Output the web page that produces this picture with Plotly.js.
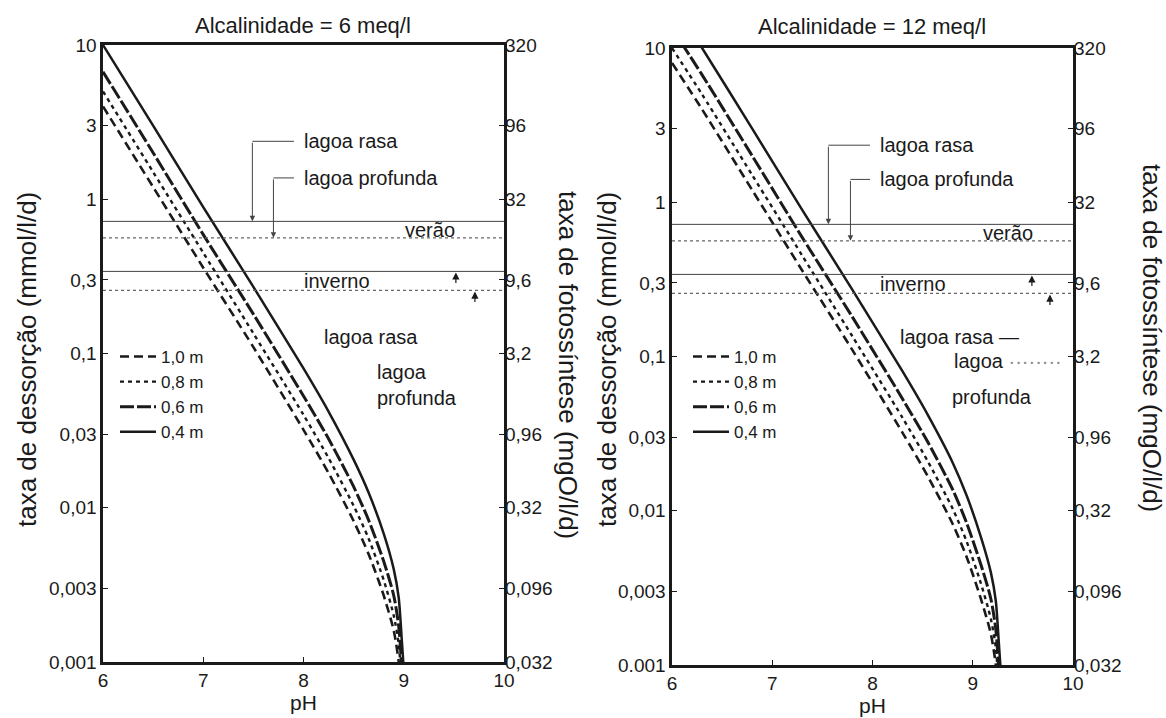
<!DOCTYPE html>
<html><head><meta charset="utf-8">
<script src="https://cdn.plot.ly/plotly-3.0.1.min.js"></script>
<style>html,body{margin:0;padding:0;background:#fff;}#chart{width:1166px;height:718px;}</style>
</head><body><div id="chart"></div>
<script>
// ---------------- data ----------------
const depthNames = ['1,0 m', '0,8 m', '0,6 m', '0,4 m'];

// Alcalinidade = 6 meq/l : pH vs taxa de dessorção (mmol/l/d)
const pH_alc6    = [6.0, 6.5, 7.0, 7.5, 8.0, 8.25, 8.5, 8.65, 8.8, 8.9, 8.95, 8.98, 9.0];
const alc6_d10   = [4.0, 1.2, 0.36, 0.11, 0.032, 0.0168, 0.0082, 0.005, 0.0027, 0.0016, 0.001, 0.00056, 0.00036];
const alc6_d08   = [5.0, 1.5, 0.45, 0.135, 0.04, 0.021, 0.0103, 0.0063, 0.0034, 0.002, 0.0013, 0.0007, 0.00045];
const alc6_d06   = [6.7, 2.0, 0.59, 0.18, 0.053, 0.028, 0.0137, 0.0083, 0.0045, 0.0027, 0.0017, 0.00093, 0.0006];
const alc6_d04   = [10, 3.0, 0.89, 0.27, 0.08, 0.042, 0.0205, 0.0125, 0.0068, 0.004, 0.0026, 0.0014, 0.0009];

// Alcalinidade = 12 meq/l
const pH_alc12   = [6.0, 6.3, 6.8, 7.3, 7.8, 8.3, 8.55, 8.8, 8.94, 9.08, 9.18, 9.23, 9.26, 9.28];
const alc12_d10  = [8.0, 4.0, 1.2, 0.36, 0.11, 0.032, 0.0168, 0.0082, 0.005, 0.0027, 0.0016, 0.001, 0.00056, 0.00036];
const alc12_d08  = [10, 5.0, 1.5, 0.45, 0.135, 0.04, 0.021, 0.0103, 0.0063, 0.0034, 0.002, 0.0013, 0.0007, 0.00045];
const alc12_d06  = [13.4, 6.7, 2.0, 0.59, 0.18, 0.053, 0.028, 0.0137, 0.0083, 0.0045, 0.0027, 0.0017, 0.00093, 0.0006];
const alc12_d04  = [20, 10, 3.0, 0.89, 0.27, 0.08, 0.042, 0.0205, 0.0125, 0.0068, 0.004, 0.0026, 0.0014, 0.0009];

// taxa de fotossíntese de referência (mgO/l/d)
const refNames  = ['verão – lagoa rasa', 'verão – lagoa profunda', 'inverno – lagoa rasa', 'inverno – lagoa profunda'];
const refLevels = [23, 18, 10.9, 8.2];

// ticks
const xRange      = [6, 10];
const xTickVals   = [6, 7, 8, 9, 10];
const yTickVals   = [0.001, 0.003, 0.01, 0.03, 0.1, 0.3, 1, 3, 10];
const yTickTextA  = ['0,001', '0,003', '0,01', '0,03', '0,1', '0,3', '1', '3', '10'];
const yTickTextB  = ['0.001', '0,003', '0,01', '0,03', '0,1', '0,3', '1', '3', '10'];
const y2TickVals  = [0.032, 0.096, 0.32, 0.96, 3.2, 9.6, 32, 96, 320];
const y2TickText  = ['0,032', '0,096', '0,32', '0,96', '3,2', '9,6', '32', '96', '320'];
const yRangeMmol  = [0.001, 10];
const yRangeMgO   = [0.032, 320];

// ---------------- styling ----------------
const W = 1166, H = 718;
const FONT = 'Liberation Sans, Arial, sans-serif';
const INK = '#1a1a1a';
const px = x => x / W, py = y => 1 - y / H;
const L = Math.log10;

const lineStyles = [
  {dash: '9px,5px', width: 2.6},
  {dash: '4px,4px', width: 2.4},
  {dash: '14px,3px', width: 3},
  {dash: 'solid', width: 2.5}
];
const refStyles = [
  {dash: 'solid', width: 1, color: '#444'},
  {dash: 'dot', width: 1.3, color: '#666'},
  {dash: 'solid', width: 1, color: '#444'},
  {dash: 'dot', width: 1.3, color: '#666'}
];

const traces = [];
function addPanel(pHs, series, xa, ya, ya2, legendId) {
  series.forEach((s, i) => {
    traces.push({
      x: pHs, y: s, xaxis: xa, yaxis: ya, type: 'scatter', mode: 'lines',
      name: depthNames[i], legend: legendId, hoverinfo: 'skip',
      line: {color: INK, dash: lineStyles[i].dash, width: lineStyles[i].width, shape: 'spline', smoothing: 0.7}
    });
  });
  refLevels.forEach((v, i) => {
    traces.push({
      x: [xRange[0], xRange[1]], y: [v, v], xaxis: xa, yaxis: ya2, type: 'scatter', mode: 'lines',
      name: refNames[i], showlegend: false, hoverinfo: 'skip',
      line: {color: refStyles[i].color, dash: refStyles[i].dash, width: refStyles[i].width}
    });
  });
}
addPanel(pH_alc6, [alc6_d10, alc6_d08, alc6_d06, alc6_d04], 'x', 'y', 'y2', 'legend');
addPanel(pH_alc12, [alc12_d10, alc12_d08, alc12_d06, alc12_d04], 'x2', 'y3', 'y4', 'legend2');

function xAxis(domain, anchor) {
  return {
    domain: domain, anchor: anchor, range: xRange, tickvals: xTickVals,
    ticks: 'inside', ticklen: 5, tickwidth: 1, tickcolor: INK,
    showline: true, mirror: true, linewidth: 2.6, linecolor: INK,
    showgrid: false, zeroline: false,
    tickfont: {family: FONT, size: 19, color: INK},
    title: {text: 'pH', font: {family: FONT, size: 21, color: INK}, standoff: 0}
  };
}
function yAxis(domain, anchor, ticktext) {
  return {
    domain: domain, anchor: anchor, type: 'log', range: [L(yRangeMmol[0]), L(yRangeMmol[1])],
    tickvals: yTickVals, ticktext: ticktext,
    ticks: 'inside', ticklen: 5, tickwidth: 1, tickcolor: INK,
    showline: true, mirror: true, linewidth: 2.6, linecolor: INK,
    showgrid: false, zeroline: false,
    tickfont: {family: FONT, size: 19, color: INK}
  };
}
function y2Axis(over, anchor) {
  return {
    overlaying: over, anchor: anchor, side: 'right', type: 'log',
    range: [L(yRangeMgO[0]), L(yRangeMgO[1])],
    tickvals: y2TickVals, ticktext: y2TickText,
    ticks: 'inside', ticklen: 5, tickwidth: 1, tickcolor: INK,
    showline: false, showgrid: false, zeroline: false,
    tickfont: {family: FONT, size: 19, color: INK}
  };
}

const annotations = [];
function txt(xref, yref, x, y, text, opts) {
  annotations.push(Object.assign({xref: xref, yref: yref, x: x, y: y, text: text, showarrow: false,
    xanchor: 'center', yanchor: 'middle',
    font: {family: FONT, size: 20, color: INK}}, opts || {}));
}
function arrow(xref, yref, x, y, ax, ay, head, opts) {
  annotations.push(Object.assign({xref: xref, yref: yref, x: x, y: y, axref: xref, ayref: yref,
    ax: ax, ay: ay, text: '', showarrow: true, arrowhead: head, arrowsize: 1.1, arrowwidth: 1,
    arrowcolor: '#444', standoff: 0}, opts || {}));
}
function upHead(xref, yref, x, y) {
  annotations.push({xref: xref, yref: yref, x: x, y: y, ax: 0, ay: 13, text: '', showarrow: true,
    arrowhead: 2, arrowsize: 1.2, arrowwidth: 1.2, arrowcolor: INK, standoff: 1});
}

// page titles
txt('paper', 'paper', px(303), py(25), 'Alcalinidade = 6 meq/l', {font: {family: FONT, size: 22, color: INK}});
txt('paper', 'paper', px(872), py(27), 'Alcalinidade = 12 meq/l', {font: {family: FONT, size: 22, color: INK}});
// axis titles
const rotFont = {family: FONT, size: 26, color: INK};
txt('paper', 'paper', px(27), py(360), 'taxa de dessorção (mmol/l/d)', {textangle: -90, font: rotFont});
txt('paper', 'paper', px(568), py(365), 'taxa de fotossíntese (mgO/l/d)', {textangle: 90, font: rotFont});
txt('paper', 'paper', px(607), py(360), 'taxa de dessorção (mmol/l/d)', {textangle: -90, font: rotFont});
txt('paper', 'paper', px(1152), py(338), 'taxa de fotossíntese (mgO/l/d)', {textangle: 90, font: rotFont});

// panel annotations
function panelNotes(xa, ya2, o) {
  const lr = L(o.labRasa), lp = L(o.labProf);
  txt(xa, ya2, o.labX, lr, 'lagoa rasa', {xanchor: 'left'});
  txt(xa, ya2, o.labX, lp, 'lagoa profunda', {xanchor: 'left'});
  arrow(xa, ya2, o.arRasa, L(refLevels[0]), o.arRasa, lr, 2);
  arrow(xa, ya2, o.arRasa, lr, o.labX - 0.06, lr, 0);
  arrow(xa, ya2, o.arProf, L(refLevels[1]), o.arProf, lp, 2);
  arrow(xa, ya2, o.arProf, lp, o.labX - 0.06, lp, 0);
  txt(xa, ya2, o.verX, o.verY, 'verão', o.verOpts || {});
  txt(xa, ya2, o.invX, L(Math.sqrt(refLevels[2] * refLevels[3])), 'inverno');
  upHead(xa, ya2, o.up1, L(refLevels[2]));
  upHead(xa, ya2, o.up2, L(refLevels[3]));
}
panelNotes('x', 'y2', {labX: 7.98, labRasa: 76, labProf: 44, arRasa: 7.49, arProf: 7.70,
  verX: 9.26, verY: L(Math.sqrt(refLevels[0] * refLevels[1])), invX: 8.33, up1: 9.52, up2: 9.71});
panelNotes('x2', 'y4', {labX: 8.05, labRasa: 75, labProf: 45, arRasa: 7.56, arProf: 7.78,
  verX: 9.35, verY: L(refLevels[1]), verOpts: {yanchor: 'bottom', yshift: -5}, invX: 8.40, up1: 9.59, up2: 9.77});

// middle labels
txt('x', 'y2', 8.18, L(4.1), 'lagoa rasa', {xanchor: 'left'});
txt('x', 'y2', 8.71, L(2.0), 'lagoa<br>profunda', {xanchor: 'left', align: 'left'});
txt('x2', 'y4', 8.25, L(4.3), 'lagoa rasa —', {xanchor: 'left'});
txt('x2', 'y4', 8.79, L(3.0), 'lagoa <span style="color:#888">········</span>', {xanchor: 'left'});
txt('x2', 'y4', 8.77, L(1.75), 'profunda', {xanchor: 'left'});

const legendBase = {xanchor: 'left', yanchor: 'top', bgcolor: 'rgba(0,0,0,0)', borderwidth: 0,
  font: {family: FONT, size: 17, color: INK}, tracegroupgap: 0, itemwidth: 36};

const layout = {
  width: W, height: H, margin: {l: 0, r: 0, t: 0, b: 0},
  paper_bgcolor: '#fff', plot_bgcolor: 'rgba(0,0,0,0)',
  font: {family: FONT, color: INK},
  xaxis: xAxis([px(103), px(504)], 'y'),
  yaxis: yAxis([py(662), py(45)], 'x', yTickTextA),
  yaxis2: y2Axis('y', 'x'),
  xaxis2: xAxis([px(672), px(1073)], 'y3'),
  yaxis3: yAxis([py(665), py(48)], 'x2', yTickTextB),
  yaxis4: y2Axis('y3', 'x2'),
  legend: Object.assign({x: px(115), y: py(339)}, legendBase),
  legend2: Object.assign({x: px(688), y: py(339)}, legendBase),
  annotations: annotations,
  showlegend: true
};

Plotly.newPlot('chart', traces, layout, {displayModeBar: false, staticPlot: true});
</script></body></html>
